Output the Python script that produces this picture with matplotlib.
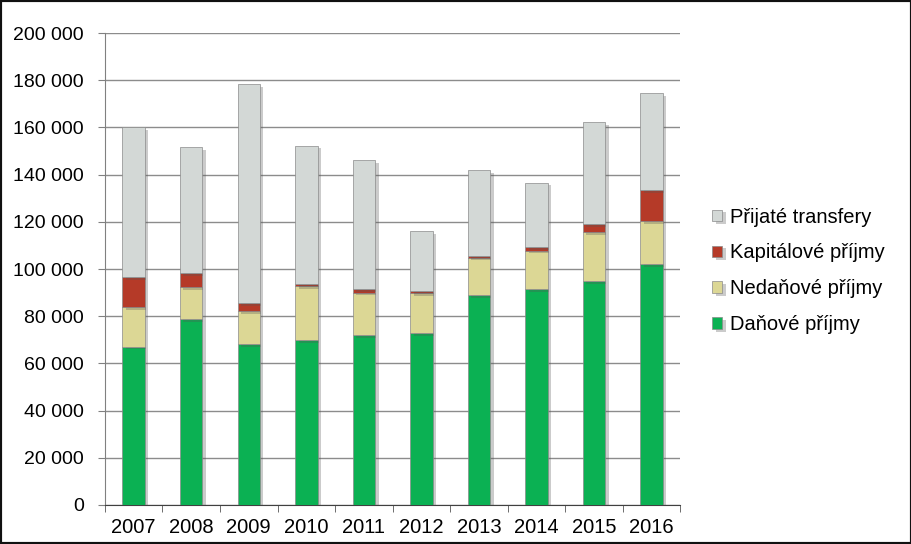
import numpy as np
import matplotlib
matplotlib.use("Agg")
import matplotlib.pyplot as plt
import matplotlib.patheffects as pe
from matplotlib.ticker import FuncFormatter, FixedLocator

plt.rcParams['font.family'] = ['Liberation Sans', 'DejaVu Sans']

# data (tis. Kc)
years = ['2007', '2008', '2009', '2010', '2011', '2012', '2013', '2014', '2015', '2016']
danove = [67.1, 78.8, 68.2, 69.8, 72.0, 72.7, 88.8, 91.5, 95.0, 102.1]
nedanove = [16.9, 13.4, 14.1, 23.0, 18.0, 17.0, 16.0, 16.3, 20.5, 18.2]
kapitalove = [12.7, 6.0, 3.4, 0.8, 1.5, 1.0, 0.8, 1.4, 3.6, 13.2]
transfery = [63.5, 53.6, 92.7, 58.7, 54.7, 25.5, 36.3, 27.4, 43.3, 40.9]

series = [
    ('Daňové příjmy', danove, '#0bb153'),
    ('Nedaňové příjmy', nedanove, '#dcd795'),
    ('Kapitálové příjmy', kapitalove, '#b53a28'),
    ('Přijaté transfery', transfery, '#d3d8d6'),
]

fig = plt.figure(figsize=(9.12, 5.44), dpi=100)
ax = fig.add_axes([0.115, 0.0717, 0.631, 0.8676])

x = np.arange(len(years))
bottom = np.zeros(len(years))
shadow = [pe.SimplePatchShadow(offset=(2.5, -2), alpha=0.3, shadow_rgbFace='#555555'), pe.Normal()]
for name, vals, col in series:
    v = np.array(vals) * 1000
    bars = ax.bar(x, v, 0.39, bottom=bottom, color=col, label=name,
                  edgecolor='#8a8a8a', linewidth=0.5, zorder=3)
    for b in bars:
        b.set_path_effects(shadow)
    bottom += v

ax.set_xlim(-0.5, 9.5)
ax.set_ylim(0, 200000)
ax.set_yticks(np.arange(0, 200001, 20000))
ax.yaxis.set_major_formatter(FuncFormatter(lambda v, p: f'{int(v):,}'.replace(',', ' ')))
ax.set_xticks(x)
ax.set_xticklabels(years)
ax.xaxis.set_minor_locator(FixedLocator(np.arange(-0.5, 10, 1)))
ax.tick_params(axis='x', which='major', length=0, labelsize=14.5, pad=9.5)
ax.tick_params(axis='x', which='minor', length=5, color='#555555', direction='out')
ax.tick_params(axis='y', length=5, color='#808080', labelsize=14, pad=10)

ax.grid(axis='y', color='#8c8c8c', linewidth=1, zorder=0)
ax.set_axisbelow(True)
for s in ['top', 'right']:
    ax.spines[s].set_visible(False)
ax.spines['left'].set_color('#808080')
ax.spines['bottom'].set_color('#404040')

h, l = ax.get_legend_handles_labels()
fig.legend(h[::-1], l[::-1], loc='center left', bbox_to_anchor=(0.761, 0.502),
           frameon=False, fontsize=14.5, handlelength=0.5, handleheight=0.5,
           handletextpad=0.4, labelspacing=0.84)

fig.patches.append(plt.Rectangle((0, 0), 1, 1, transform=fig.transFigure,
                                 fill=False, edgecolor='#111111', linewidth=3))

fig.savefig('out.png', dpi=100)
